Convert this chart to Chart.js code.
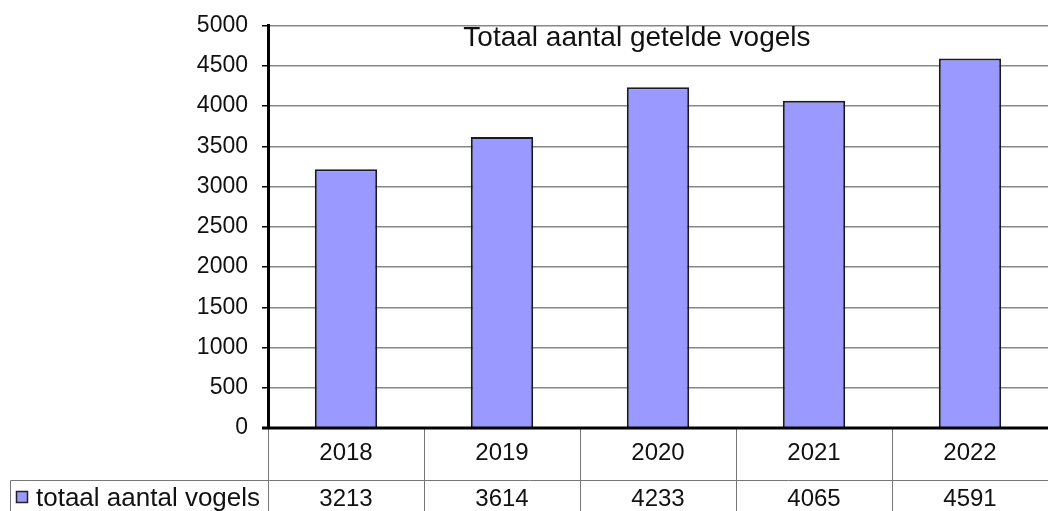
<!DOCTYPE html>
<html>
<head>
<meta charset="utf-8">
<style>
  html, body { margin: 0; padding: 0; background: #fff; }
  #wrap { width: 1048px; height: 511px; }
</style>
<script src="https://cdn.jsdelivr.net/npm/chart.js@4"></script>
</head>
<body>
<div id="wrap"><canvas id="birds" width="1048" height="511"></canvas></div>
<script>
// chart data
const years = ["2018", "2019", "2020", "2021", "2022"];
const birdCounts = [3213, 3614, 4233, 4065, 4591];
const seriesName = "totaal aantal vogels";
const chartTitle = "Totaal aantal getelde vogels";

const FONT = "'Liberation Sans', Arial, sans-serif";
const BAR_FILL = "#9999ff";

// title inside plot + data table under the plot
const tablePlugin = {
    id: "dataTable",
    afterDraw(chart) {
        const ctx = chart.ctx;
        const area = chart.chartArea;
        const bottom = chart.height;
        const rowSplit = area.bottom + 52;

        ctx.save();
        // title
        ctx.fillStyle = "#111";
        ctx.font = "28px " + FONT;
        ctx.textAlign = "center";
        ctx.textBaseline = "middle";
        ctx.fillText(chartTitle, area.left + (area.right - area.left) * 0.473, area.top + 13);

        // table lines
        ctx.strokeStyle = "#777";
        ctx.lineWidth = 1;
        const step = (area.right - area.left) / years.length;
        for (let i = 0; i <= years.length; i++) {
            const lx = Math.round(area.left + i * step) + 0.5;
            ctx.beginPath();
            ctx.moveTo(lx, area.bottom);
            ctx.lineTo(lx, bottom);
            ctx.stroke();
        }
        ctx.beginPath();
        ctx.moveTo(10.5, rowSplit + 0.5);
        ctx.lineTo(area.right, rowSplit + 0.5);
        ctx.moveTo(10.5, rowSplit + 0.5);
        ctx.lineTo(10.5, bottom);
        ctx.stroke();

        // bottom axis line
        ctx.strokeStyle = "#000";
        ctx.lineWidth = 3;
        ctx.beginPath();
        ctx.moveTo(area.left - 6, area.bottom);
        ctx.lineTo(area.right, area.bottom);
        ctx.stroke();

        // category and value rows
        ctx.fillStyle = "#111";
        ctx.font = "24px " + FONT;
        years.forEach((yr, i) => {
            const cx = area.left + (i + 0.5) * step;
            ctx.fillText(yr, cx, area.bottom + 25);
            ctx.fillText(String(birdCounts[i]), cx, rowSplit + 19);
        });

        // legend cell
        ctx.fillStyle = BAR_FILL;
        ctx.fillRect(16.5, rowSplit + 11.5, 11, 11);
        ctx.strokeStyle = "#222";
        ctx.lineWidth = 1.5;
        ctx.strokeRect(16.5, rowSplit + 11.5, 11, 11);
        ctx.fillStyle = "#111";
        ctx.textAlign = "left";
        ctx.font = "26px " + FONT;
        ctx.fillText(seriesName, 36, rowSplit + 19);
        ctx.restore();
    }
};

new Chart(document.getElementById("birds"), {
    type: "bar",
    data: {
        labels: years,
        datasets: [{
            label: seriesName,
            data: birdCounts,
            backgroundColor: BAR_FILL,
            borderColor: "#1a1a2a",
            borderWidth: 2,
            categoryPercentage: 1,
            barPercentage: 0.4
        }]
    },
    options: {
        responsive: false,
        animation: false,
        layout: { padding: { top: 25, right: 0, bottom: 83, left: 0 } },
        plugins: {
            legend: { display: false },
            title: { display: false },
            tooltip: { enabled: false }
        },
        scales: {
            x: {
                display: false
            },
            y: {
                min: 0,
                max: 5000,
                ticks: {
                    stepSize: 500,
                    color: "#111",
                    padding: 14,
                    font: { family: FONT, size: 23, lineHeight: 1 },
                    callback: v => String(v)
                },
                grid: {
                    color: "#888",
                    lineWidth: 1.5,
                    tickColor: "#000",
                    tickLength: 6
                },
                border: { color: "#000", width: 3 },
                afterFit(scale) { scale.width = 268; }
            }
        }
    },
    plugins: [tablePlugin]
});
</script>
</body>
</html>
